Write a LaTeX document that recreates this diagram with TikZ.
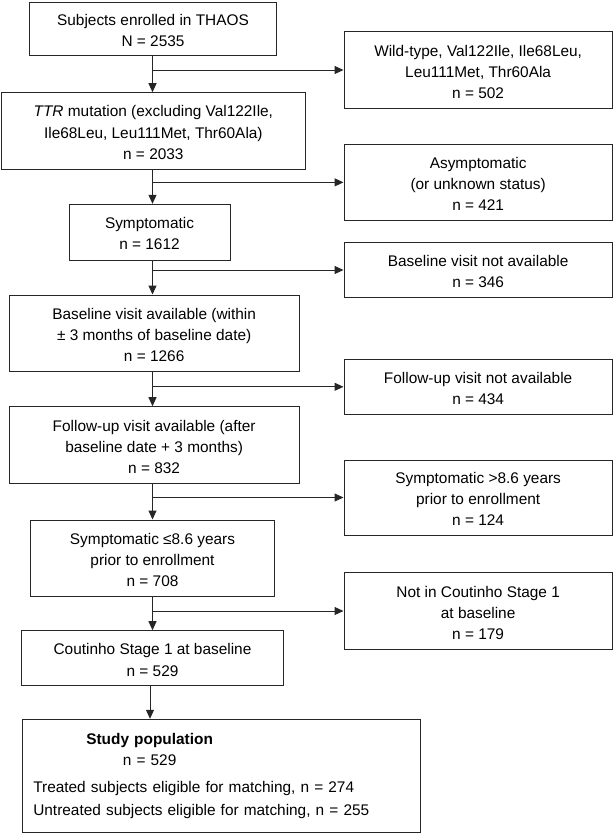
\documentclass[tikz,border=0pt]{standalone}
\usepackage{fontspec}
\setmainfont{Liberation Sans}
\usetikzlibrary{arrows.meta}
\newcommand{\bt}[1]{\raisebox{-3pt}[\height][\depth]{\begin{tabular}{@{}c@{}}#1\end{tabular}}}
\begin{document}
\begin{tikzpicture}[x=1pt,y=-1pt,
  box/.style={draw=black!85, line width=1pt, rectangle, inner sep=0pt, font=\fontsize{15.4}{21.2}\selectfont},
  rbox/.style={box, minimum width=268.3pt},
  arr/.style={draw=black!85, line width=1pt, -{Triangle[length=9pt,width=8pt]}}]
\useasboundingbox (0,0) rectangle (614,835);
% left column
\node[box, minimum width=247.4pt, minimum height=53pt] (b1) at (153,28.5) {\bt{Subjects enrolled in THAOS\\N = 2535}};
\node[box, minimum width=303.3pt, minimum height=76.3pt] (b2) at (153.35,130.85) {\bt{\textit{TTR} mutation (excluding Val122Ile,\\Ile68Leu, Leu111Met, Thr60Ala)\\n = 2033}};
\node[box, minimum width=161pt, minimum height=55.7pt] (b3) at (149.5,232.15) {\bt{Symptomatic\\n = 1612}};
\node[box, minimum width=289.7pt, minimum height=76.7pt] (b4) at (154.15,333.35) {\bt{Baseline visit available (within\\± 3 months of baseline date)\\n = 1266}};
\node[box, minimum width=289.7pt, minimum height=76.6pt] (b5) at (154.15,445) {\bt{Follow-up visit available (after\\baseline date + 3 months)\\n = 832}};
\node[box, minimum width=243.6pt, minimum height=76pt] (b6) at (152.5,558) {\bt{Symptomatic ≤8.6 years\\prior to enrollment\\n = 708}};
\node[box, minimum width=261.6pt, minimum height=55pt] (b7) at (152.5,658.2) {\bt{Coutinho Stage 1 at baseline\\n = 529}};
\node[box, text width=376.1pt, inner xsep=10.6pt, align=left, minimum height=113.4pt] (b8) at (221.35,776) {\makebox[232.6pt]{\bfseries Study population}\\\makebox[232.6pt]{n = 529}\\[6.5pt]Treated subjects eligible for matching, n = 274\\[1.8pt]Untreated subjects eligible for matching, n = 255};
% right column
\node[rbox, minimum height=76.6pt] (r1) at (478.15,70) {\bt{Wild-type, Val122Ile, Ile68Leu,\\Leu111Met, Thr60Ala\\n = 502}};
\node[rbox, minimum height=76.7pt] (r2) at (478.15,182.35) {\bt{Asymptomatic\\(or unknown status)\\n = 421}};
\node[rbox, minimum height=55.4pt] (r3) at (478.15,270) {\bt{Baseline visit not available\\n = 346}};
\node[rbox, minimum height=55pt] (r4) at (478.15,386.8) {\bt{Follow-up visit not available\\n = 434}};
\node[rbox, minimum height=75pt] (r5) at (478.15,497.5) {\bt{Symptomatic >8.6 years\\prior to enrollment\\n = 124}};
\node[rbox, minimum height=76.6pt] (r6) at (478.15,611) {\bt{Not in Coutinho Stage 1\\at baseline\\n = 179}};
% trunk
\coordinate (t) at (152.5,0);
\coordinate (tb) at (150,0);
\draw[arr] (b1.south -| t) -- (b2.north -| t);
\draw[arr] (b2.south -| t) -- (b3.north -| t);
\draw[arr] (b3.south -| t) -- (b4.north -| t);
\draw[arr] (b4.south -| t) -- (b5.north -| t);
\draw[arr] (b5.south -| t) -- (b6.north -| t);
\draw[arr] (b6.south -| t) -- (b7.north -| t);
\draw[arr] (b7.south -| tb) -- (b8.north -| tb);
% branches
\draw[arr] (t |- r1.west) -- (r1.west);
\draw[arr] (t |- r2.west) -- (r2.west);
\draw[arr] (t |- r3.west) -- (r3.west);
\draw[arr] (t |- r4.west) -- (r4.west);
\draw[arr] (t |- r5.west) -- (r5.west);
\draw[arr] (t |- r6.west) -- (r6.west);
\end{tikzpicture}
\end{document}
